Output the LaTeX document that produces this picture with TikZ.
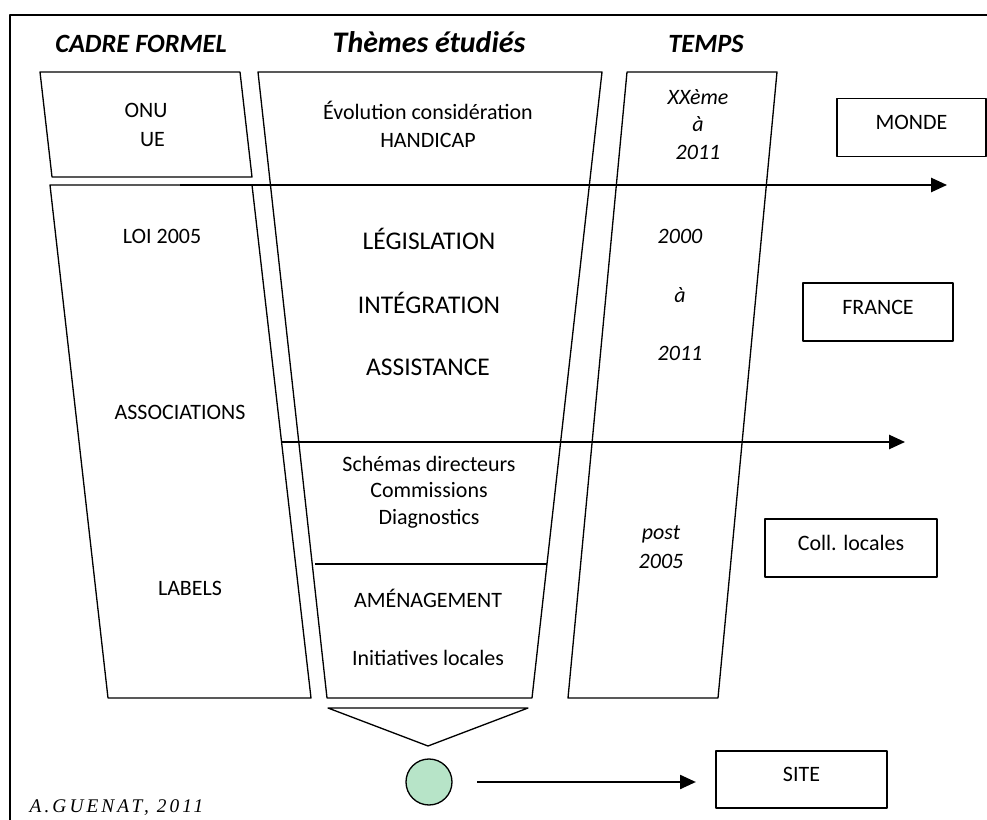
\documentclass[tikz,border=0pt]{standalone}
\usepackage{fontspec}
\setmainfont{Carlito}
\newfontfamily\signature[LetterSpace=16]{Liberation Serif}
\usetikzlibrary{arrows.meta}
\definecolor{vertsite}{RGB}{183,228,200}
\tikzset{
	titre/.style={font=\fontsize{15}{18}\selectfont\bfseries\itshape, anchor=base},
	texte/.style={font=\fontsize{12.5}{16.5}\selectfont, align=center, inner sep=0pt},
	gros/.style={font=\fontsize{14.5}{17}\selectfont, inner sep=0pt},
	date/.style={font=\fontsize{12.5}{16}\selectfont\itshape, align=center, inner sep=0pt},
	boite/.style={draw, line width=0.9pt, font=\fontsize{12.5}{15}\selectfont, text height=8pt, text depth=5.7pt, minimum height=11.6mm},
	fleche/.style={->, line width=1.1pt},
}
\begin{document}
\begin{tikzpicture}[x=0.2mm, y=-0.2mm, >={Triangle[length=9pt,width=8pt]}, line width=0.75pt, line join=round]
	\useasboundingbox (0,0) rectangle (987,820);
	\draw[line width=1.2pt] (10,820)--(10,15)--(987,15); % cadre
	
	% titres des colonnes
	\node[titre] (cadre) at (141,53) {CADRE FORMEL};
	\node[titre, font=\fontsize{17}{20}\selectfont\bfseries\itshape] (themes) at (429,53) {Thèmes étudiés};
	\node[titre] (temps) at (706,53) {TEMPS};
	
	% colonnes
	\draw (40,72)--(240,72)--(252,177)--(52,177)--cycle;
	\draw (50,185)--(252,185)--(311,698)--(108,698)--cycle;
	\draw (258,72)--(602,72)--(532,698)--(327,698)--cycle;
	\draw (315,564)--(547,564);
	\draw (627,72)--(777,72)--(718,698)--(568,698)--cycle;
	\draw (328,708)--(528,708)--(428,746)--cycle;
	
	% echelle MONDE
	\node[texte] (onu) at (146,124.5) {ONU\\\hspace*{7.4pt}UE};
	\node[texte, font=\fontsize{12.5}{16}\selectfont] (evol) at (428,124) {Évolution considération\\HANDICAP};
	\node[date, font=\fontsize{12.5}{15.6}\selectfont\itshape] (xxe) at (698,124.5) {XXème\\à\\2011};
	\node[boite, minimum width=29.8mm] (monde) at (911.5,127.5) {MONDE};
	
	% echelle FRANCE
	\node[texte] (loi) at (162,236) {LOI 2005};
	\node[gros] (legis) at (429,239) {LÉGISLATION};
	\node[gros] (integ) at (429,303) {INTÉGRATION};
	\node[gros] (assist) at (428,367) {ASSISTANCE};
	\node[date] (an2000) at (680,236) {2000};
	\node[date] (ana) at (680,295) {à};
	\node[date] (an2011) at (680,353) {2011};
	\node[texte] (assoc) at (180,412) {ASSOCIATIONS};
	\node[boite, minimum width=30mm] (france) at (878,312) {FRANCE};
	
	% echelle locale
	\node[texte, font=\fontsize{12.5}{15}\selectfont] (schemas) at (429,492) {Schémas directeurs\\Commissions\\Diagnostics};
	\node[texte] (labels) at (190,588) {LABELS};
	\node[texte] (amenag) at (428,598) {AMÉNAGEMENT};
	\node[texte] (initiat) at (428,658) {Initiatives locales};
	\node[date, font=\fontsize{12.5}{16.5}\selectfont\itshape] (post) at (661,547) {post\\2005};
	\node[boite, minimum width=34.4mm] (coll) at (851,548) {Coll. locales};
	
	% site
	\node[circle, draw, fill=vertsite, minimum size=9.2mm, inner sep=0pt] (rond) at (429,782) {};
	\node[boite, minimum width=34.2mm, minimum height=11.4mm] (site) at (801.5,779.5) {SITE};
	
	% fleches
	\coordinate (m1) at (180,185); \coordinate (m2) at (947,185);
	\coordinate (f1) at (282,442); \coordinate (f2) at (905,442);
	\draw[fleche] (m1)--(m2);
	\draw[fleche] (f1)--(f2);
	\draw[fleche, shorten <=14pt, shorten >=11pt] (rond)--(rond-|site.west);
	
	\node[anchor=base west, inner sep=0pt, font=\signature\fontsize{11}{13}\selectfont\itshape] (auteur) at (29,812) {A.GUENAT, 2011};
\end{tikzpicture}
\end{document}
